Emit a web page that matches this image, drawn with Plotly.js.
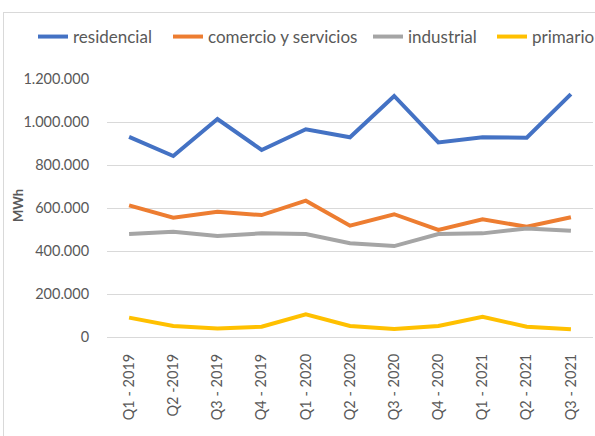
<!DOCTYPE html>
<html>
<head>
<meta charset="utf-8">
<script src="https://cdn.plot.ly/plotly-3.0.1.min.js"></script>
<style>
html, body { margin:0; padding:0; width:595px; height:436px; overflow:hidden; background:#fff; }
#frame { position:absolute; left:3px; top:12px; width:700px; height:500px; border:1px solid #d9d9d9; box-sizing:border-box; }
#chart { position:absolute; left:0; top:0; width:640px; height:436px; }
</style>
</head>
<body>
<div id="frame"></div>
<div id="chart"></div>
<script>
const categories = ["Q1 - 2019","Q2 -2019","Q3 - 2019","Q4 - 2019","Q1 - 2020","Q2 - 2020","Q3 - 2020","Q4 - 2020","Q1 - 2021","Q2 - 2021","Q3 - 2021"];
const residencial = [931000, 842000, 1014000, 870000, 966000, 929000, 1121000, 905000, 929000, 927000, 1130000];
const comercio = [612000, 555000, 583000, 567000, 634000, 518000, 571000, 498000, 547000, 513000, 557000];
const industrial = [479000, 490000, 470000, 482000, 479000, 436000, 423000, 479000, 482000, 505000, 494000];
const primario = [90000, 51000, 40000, 48000, 106000, 51000, 37000, 51000, 94000, 48000, 36000];
const seriesNames = ["residencial", "comercio y servicios", "industrial", "primario"];
const colors = ["#4472C4", "#ED7D31", "#A5A5A5", "#FFC000"];
const values = [residencial, comercio, industrial, primario];
const legendKeys = ["legend", "legend2", "legend3", "legend4"];
const legendX = [33, 168, 368, 492];

const traces = values.map((v, i) => ({
  type: "scatter", mode: "lines", name: seriesNames[i], x: categories, y: v,
  line: {color: colors[i], width: 4}, legend: legendKeys[i]
}));

const W = 640, H = 436;
const layout = {
  width: W, height: H,
  margin: {l: 107, r: W - 593, t: 79, b: H - 337},
  paper_bgcolor: "rgba(0,0,0,0)", plot_bgcolor: "rgba(0,0,0,0)",
  separators: ",.",
  font: {family: "Lato, 'Open Sans', sans-serif", size: 14.5, color: "#595959"},
  showlegend: true,
  xaxis: {
    type: "category", range: [-0.5, 10.5], tickangle: -90,
    showgrid: false, showline: true, linecolor: "#d9d9d9", linewidth: 1,
    ticks: "outside", ticklen: 10, tickcolor: "rgba(0,0,0,0)",
    tickfont: {size: 14.5, color: "#595959"}, zeroline: false
  },
  yaxis: {
    range: [0, 1200000], dtick: 200000, tickformat: ",d",
    showgrid: true, gridcolor: "#d9d9d9", gridwidth: 1, zeroline: false,
    showline: false,
    ticks: "outside", ticklen: 14, tickcolor: "rgba(0,0,0,0)",
    tickfont: {size: 14.5, color: "#595959"}
  },
  annotations: [{
    text: "MWh", textangle: -90, showarrow: false,
    xref: "paper", yref: "paper",
    x: (18 - 107) / (593 - 107), y: (337 - 206) / (337 - 79),
    xanchor: "center", yanchor: "middle",
    font: {size: 13, color: "#595959", weight: "bold"}
  }]
};
legendKeys.forEach((k, i) => {
  layout[k] = {
    orientation: "h", xref: "container", yref: "container",
    x: legendX[i] / W, y: 1 - 37 / H, xanchor: "left", yanchor: "middle",
    font: {size: 17, color: "#595959"}, itemwidth: 30,
    bgcolor: "rgba(0,0,0,0)", borderwidth: 0
  };
});
Plotly.newPlot("chart", traces, layout, {displayModeBar: false, staticPlot: true});
</script>
</body>
</html>
